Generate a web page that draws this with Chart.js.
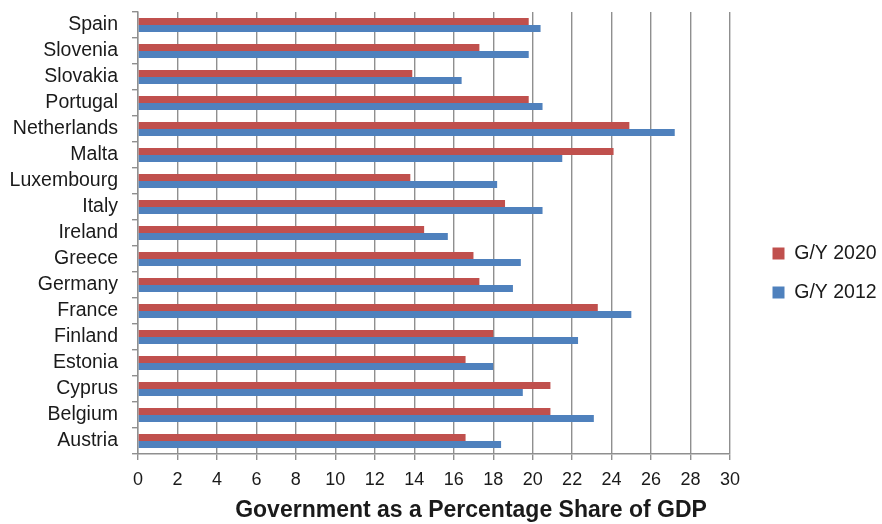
<!DOCTYPE html>
<html>
<head>
<meta charset="utf-8">
<script src="https://cdn.jsdelivr.net/npm/chart.js@4/dist/chart.umd.min.js"></script>
<style>
  html, body { margin: 0; padding: 0; background: #fff; }
  #wrap { width: 882px; height: 524px; position: relative; }
</style>
</head>
<body>
<div id="wrap"><canvas id="chart"></canvas></div>
<script>
// values
const countries = ['Spain', 'Slovenia', 'Slovakia', 'Portugal', 'Netherlands', 'Malta', 'Luxembourg', 'Italy',
  'Ireland', 'Greece', 'Germany', 'France', 'Finland', 'Estonia', 'Cyprus', 'Belgium', 'Austria'];
const gy2020 = [19.8, 17.3, 13.9, 19.8, 24.9, 24.1, 13.8, 18.6, 14.5, 17.0, 17.3, 23.3, 18.0, 16.6, 20.9, 20.9, 16.6];
const gy2012 = [20.4, 19.8, 16.4, 20.5, 27.2, 21.5, 18.2, 20.5, 15.7, 19.4, 19.0, 25.0, 22.3, 18.0, 19.5, 23.1, 18.4];
const seriesNames = ['G/Y 2020', 'G/Y 2012'];
const xMin = 0;
const xMax = 30;
const xStep = 2;
const axisTitle = 'Government as a Percentage Share of GDP';

const FONT = "'Liberation Sans', Arial, Helvetica, sans-serif";
const gridColor = '#8f8f8f';
const textColor = '#1a1a1a';

// legend sits in a fixed-width column on the right, nudged to where the reference draws it
const legendWidth = 152;
const legendShiftX = 23;
const legendShiftY = 5;
// the axis title in the reference sits right of the plot centre
const titleShiftX = 37;

const placement = {
  id: 'placement',
  afterInit(chart) {
    const legend = chart.legend;
    const fit = legend.fit.bind(legend);
    legend.fit = function () { fit(); this.width = legendWidth; };
  },
  afterLayout(chart) {
    const legend = chart.legend;
    legend.left += legendShiftX;
    legend.right += legendShiftX;
    legend.top += legendShiftY;
    legend.bottom += legendShiftY;

    const x = chart.scales.x;
    if (!x._titleShifted) {
      const drawTitle = x.drawTitle.bind(x);
      x.drawTitle = function () {
        const ctx = this.ctx;
        ctx.save();
        ctx.translate(titleShiftX, 0);
        drawTitle();
        ctx.restore();
      };
      x._titleShifted = true;
    }
  }
};

new Chart(document.getElementById('chart').getContext('2d'), {
  type: 'bar',
  data: {
    labels: countries,
    datasets: [
      { label: seriesNames[0], data: gy2020, backgroundColor: '#c0504d', borderWidth: 0 },
      { label: seriesNames[1], data: gy2012, backgroundColor: '#4f81bd', borderWidth: 0 }
    ]
  },
  options: {
    indexAxis: 'y',
    responsive: true,
    maintainAspectRatio: false,
    animation: false,
    layout: { padding: { top: 12, left: 0, right: 0, bottom: 0 } },
    datasets: { bar: { categoryPercentage: 0.54, barPercentage: 1 } },
    scales: {
      x: {
        min: xMin,
        max: xMax,
        ticks: { stepSize: xStep, color: textColor, font: { family: FONT, size: 18 }, padding: 9 },
        grid: { color: gridColor, lineWidth: 1.4, tickLength: 6 },
        border: { color: gridColor, width: 1.4 },
        title: {
          display: true,
          text: axisTitle,
          color: textColor,
          font: { family: FONT, size: 23, weight: 'bold' },
          padding: { top: 4, bottom: 0 }
        },
        afterFit: (scale) => { scale.height = 70; }
      },
      y: {
        ticks: { autoSkip: false, color: textColor, font: { family: FONT, size: 19.5 }, padding: 14 },
        grid: { drawOnChartArea: false, color: gridColor, lineWidth: 1.4, tickLength: 6 },
        border: { color: gridColor, width: 1.4 },
        afterFit: (scale) => {
          scale.width = 138;
          scale.paddingTop = 0;
          scale.paddingBottom = 0;
        }
      }
    },
    plugins: {
      legend: {
        position: 'right',
        labels: {
          boxWidth: 12,
          boxHeight: 12,
          padding: 19.5,
          color: textColor,
          font: { family: FONT, size: 19.5 }
        }
      },
      tooltip: { enabled: false }
    }
  },
  plugins: [placement]
});
</script>
</body>
</html>
